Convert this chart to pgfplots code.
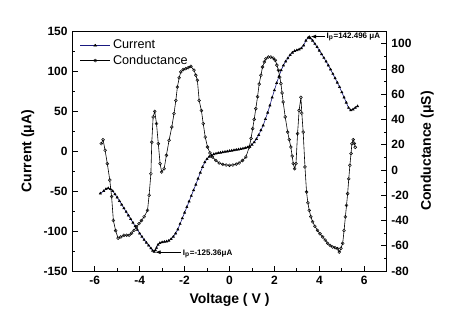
\documentclass[border=0pt]{standalone}
\usepackage{pgfplots}
\pgfplotsset{compat=1.18}
\usepackage{fontspec}
\setmainfont{Liberation Sans}
\usetikzlibrary{arrows.meta}
\definecolor{navy}{rgb}{0.1,0.1,0.5}

\pgfplotstableread{
x I
-5.75 -53
-5.6 -50
-5.5 -47.5
-5.4 -46.5
-5.3 -47.5
-5.2 -50
-5.1 -54
-5.0 -58
-4.9 -62.5
-4.8 -67
-4.7 -71.5
-4.6 -76
-4.5 -80.5
-4.4 -85
-4.3 -89.5
-4.2 -94
-4.1 -98.5
-4.0 -103
-3.9 -107
-3.8 -111
-3.7 -114.5
-3.6 -118
-3.5 -121.5
-3.42 -124.5
-3.35 -126
-3.3 -124
-3.25 -121
-3.18 -117
-3.1 -115
-3.0 -114
-2.9 -113.5
-2.8 -113
-2.7 -112
-2.6 -110
-2.5 -107
-2.4 -103
-2.3 -98
-2.2 -91
-2.1 -84
-2.0 -77
-1.9 -70
-1.8 -63
-1.7 -56
-1.6 -49
-1.5 -42
-1.4 -34.5
-1.3 -27
-1.2 -20
-1.1 -14
-1.0 -10
-0.9 -7
-0.8 -5.5
-0.7 -4
-0.6 -3.2
-0.5 -2.5
-0.4 -2
-0.3 -1.5
-0.2 -1
-0.1 -0.5
0.0 0
0.1 0.5
0.2 1
0.3 1.5
0.4 2
0.5 2.5
0.6 3.1
0.7 3.8
0.8 4.6
0.9 5.5
1.0 8
1.1 11
1.2 15
1.3 20
1.4 26
1.5 32
1.6 40
1.7 48
1.8 57
1.9 67
2.0 76
2.1 85
2.2 93
2.3 101
2.4 107
2.5 112
2.6 116
2.7 120
2.8 123
2.9 125
3.0 126
3.1 127
3.2 128.5
3.3 132
3.4 138
3.5 141.5
3.55 142.5
3.6 141
3.7 138
3.8 134
3.9 130
4.0 125.5
4.1 121
4.2 116.5
4.3 112
4.4 107
4.5 102
4.6 96.5
4.7 91
4.8 85.5
4.9 80
5.0 73.5
5.1 67
5.2 60.5
5.3 54
5.4 51
5.5 52
5.6 54
5.7 56
}\current

\pgfplotstableread{
x G
-5.71 20.8
-5.63 24
-5.54 15.6
-5.44 5
-5.33 -8
-5.25 -21
-5.17 -40
-5.07 -48
-4.96 -54
-4.84 -53
-4.7 -51.7
-4.58 -51.7
-4.47 -51.7
-4.36 -50
-4.25 -47.8
-4.14 -45
-4.03 -42.5
-3.92 -40
-3.8 -37
-3.65 -32
-3.58 -20
-3.5 -3
-3.46 22
-3.4 42
-3.33 46.4
-3.25 36.7
-3.17 20.8
-3.09 5
-3.02 -1.6
-2.91 1
-2.81 11.6
-2.69 23.5
-2.57 34
-2.47 44.6
-2.39 55
-2.32 65.7
-2.24 73
-2.17 77.6
-2.06 79.5
-1.95 80.2
-1.84 81
-1.72 82
-1.58 79
-1.5 75
-1.43 71
-1.35 55
-1.25 47
-1.17 36.7
-1.08 26
-0.98 18.2
-0.87 13.5
-0.76 10.3
-0.61 7.5
-0.46 5.5
-0.3 4.4
-0.15 3.9
0 3.7
0.15 3.9
0.3 4.6
0.43 5.5
0.58 7.5
0.73 10.3
0.88 18.2
0.96 25
1.03 32.7
1.1 40
1.17 48.5
1.25 58
1.32 68
1.4 75
1.47 81.5
1.55 85.5
1.62 88
1.73 89.4
1.84 89.4
1.95 88.5
2.04 86.8
2.11 83
2.18 78.9
2.24 73.5
2.29 68.3
2.34 61
2.39 53.8
2.48 42
2.59 30
2.66 24
2.73 18.2
2.79 11
2.84 5
2.9 1
2.96 5
3.03 28.8
3.1 47.2
3.18 57.5
3.22 45
3.28 30
3.36 2.4
3.43 -17.4
3.49 -26
3.55 -32
3.62 -37
3.7 -41
3.8 -44.5
3.92 -47.8
4.03 -50.5
4.15 -53
4.26 -55.5
4.37 -58
4.48 -59.8
4.59 -61
4.7 -61.5
4.81 -62.3
4.89 -65
4.96 -62
5.04 -58
5.1 -48
5.16 -37
5.21 -28
5.26 -18.7
5.31 -7
5.36 3.7
5.41 13
5.45 20.8
5.51 24
5.56 21
5.6 18
}\conductance

\begin{document}
\begin{tikzpicture}[x=1pt,y=1pt]
\pgfplotsset{
  every axis/.append style={
    scale only axis, width=235.8pt, height=180pt,
    xmin=-7, xmax=7,
    tick align=inside,
    tick style={black, line width=0.6pt},
    major tick length=4pt, minor tick length=2.2pt,
    axis line style={line width=0.6pt},
    tick label style={font=\fontsize{9}{10}\selectfont\bfseries},
    label style={font=\fontsize{10.5}{12}\selectfont\bfseries},
    /pgf/number format/assume math mode=true,
  }
}
\begin{axis}[
  axis y line*=left,
  xtick={-6,-4,...,6}, minor x tick num=1,
  xtick pos=bottom,
  ymin=-150, ymax=150,
  ytick={-150,-100,...,150}, minor y tick num=1,
  xlabel={Voltage ( V )},
  ylabel={Current (μA)},
  legend style={draw=none, fill=none, at={(0.02,0.98)}, anchor=north west,
    font=\fontsize{9.5}{11}\selectfont, row sep=-1pt, inner sep=1pt},
  legend cell align=left,
  legend image post style={xscale=1.3},
]
\addplot[navy, line width=0.45pt, mark=triangle*, mark size=0.9pt,
  mark options={black, solid}] table[x=x, y=I] {\current};
\addlegendentry{Current}
\addlegendimage{black, line width=0.45pt, mark=o, mark size=1.1pt, mark options={line width=0.35pt}}
\addlegendentry{Conductance}
\draw[{Latex[length=4pt,width=3pt]}-, line width=0.5pt] (axis cs:3.62,143) -- (axis cs:4.25,143)
  node[right, inner sep=1pt, font=\fontsize{6}{7}\selectfont\bfseries] {I\textsubscript{p}=142.496 μA};
\draw[{Latex[length=4pt,width=3pt]}-, line width=0.5pt] (axis cs:-3.3,-126.5) -- (axis cs:-2.15,-126.5)
  node[right, inner sep=1pt, font=\fontsize{6}{7}\selectfont\bfseries, yshift=-1pt] {I\textsubscript{p}=-125.36μA};
\end{axis}
\begin{axis}[
  axis y line*=right,
  axis x line=none,
  ymin=-80, ymax=110,
  ytick={-80,-60,...,100}, minor y tick num=1,
  ylabel={Conductance (μS)},
]
\addplot[black, line width=0.45pt, mark=o, mark size=1.1pt,
  mark options={solid, fill=white, line width=0.35pt}]
  table[x=x, y=G] {\conductance};
\end{axis}
\path (-54.2pt,-46.5pt) rectangle (285.5pt,203.25pt);
\end{tikzpicture}
\end{document}
